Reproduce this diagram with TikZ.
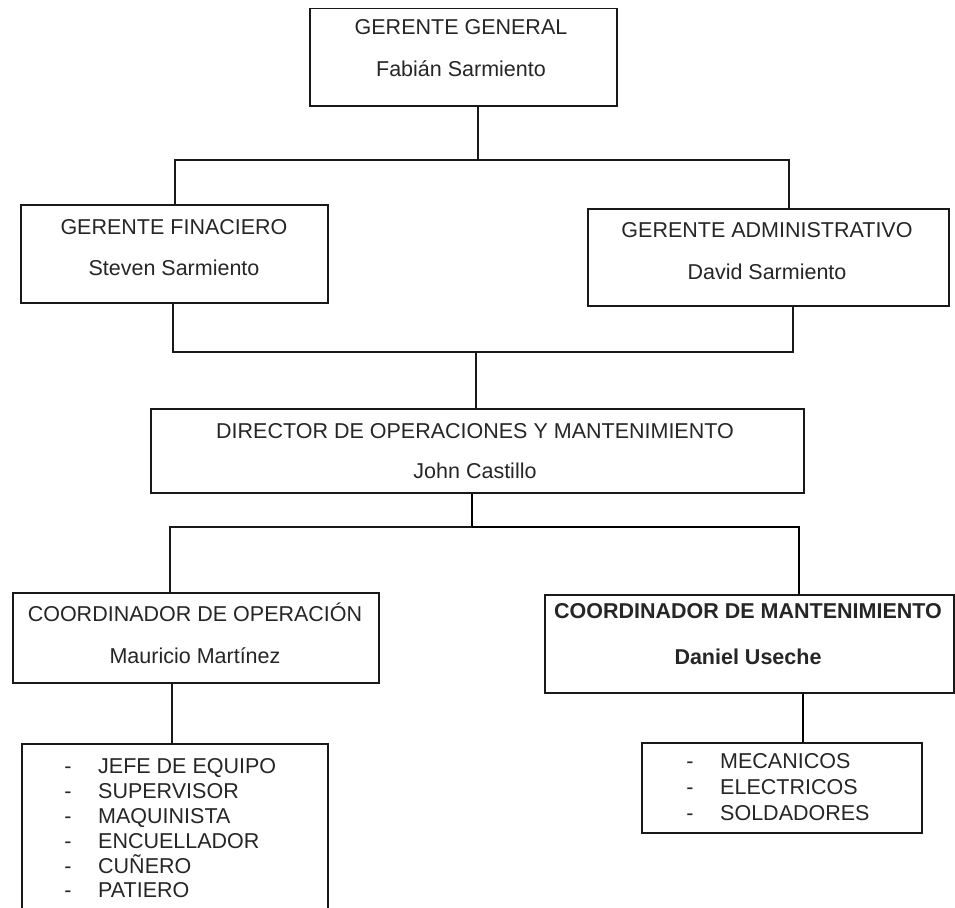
\documentclass[tikz,border=0pt]{standalone}
\usepackage{fontspec}
\setmainfont{Liberation Sans}
\begin{document}
\begin{tikzpicture}[x=1pt,y=-1pt,
  box/.style={draw=black!90, line width=1.5pt, rectangle, inner sep=0pt, anchor=north west},
  conn/.style={draw=black!90, line width=1.5pt},
  heavy/.style={draw=black, line width=2.6pt},
  txt/.style={anchor=base, inner sep=0pt, text=black!85, font=\fontsize{21.5}{25}\selectfont},
  btxt/.style={txt, font=\fontsize{21.5}{25}\selectfont\bfseries},
  bullet mark/.style={txt},
  item/.style={txt, anchor=base west}
]
\clip (0,0) rectangle (955,907);
\fill[white] (0,0) rectangle (955,907);

% boxes
\node[box, minimum width=307pt, minimum height=97pt] (gg) at (309,8) {};
\node[box, minimum width=307pt, minimum height=98pt] (gf) at (20,204) {};
\node[box, minimum width=361pt, minimum height=97pt] (ga) at (587,208) {};
\node[box, minimum width=653pt, minimum height=84pt] (dir) at (150,408) {};
\node[box, minimum width=366pt, minimum height=90pt] (co) at (12,592) {};
\node[box, minimum width=409pt, minimum height=98pt] (cm) at (544,594) {};
\node[box, minimum width=306pt, minimum height=200pt] (ll) at (21,743) {};
\node[box, minimum width=280pt, minimum height=90pt] (lr) at (641,742) {};

% texts
\node[txt] (ggt) at (461,35) {GERENTE GENERAL};
\node[txt] (ggn) at (461,76) {Fabián Sarmiento};
\node[txt] (gft) at (174,234) {GERENTE FINACIERO};
\node[txt] (gfn) at (174,275) {Steven Sarmiento};
\node[txt] (gat) at (767,237) {GERENTE ADMINISTRATIVO};
\node[txt] (gan) at (767,279) {David Sarmiento};
\node[txt] (dirt) at (475,438) {DIRECTOR DE OPERACIONES Y MANTENIMIENTO};
\node[txt] (dirn) at (475,478) {John Castillo};
\node[txt] (cot) at (195,621) {COORDINADOR DE OPERACIÓN};
\node[txt] (con) at (195,663) {Mauricio Martínez};
\node[btxt] (cmt) at (748,618) {COORDINADOR DE MANTENIMIENTO};
\node[btxt] (cmn) at (748,664) {Daniel Useche};

% left list
\foreach \lbl/\yy [count=\i] in {JEFE DE EQUIPO/773, SUPERVISOR/798, MAQUINISTA/823,
    ENCUELLADOR/848, CUÑERO/873, PATIERO/897} {
  \node[bullet mark] (lld\i) at (68,\yy) {-};
  \node[item] (lli\i) at (98,\yy) {\lbl};
}
% right list
\foreach \lbl/\yy [count=\i] in {MECANICOS/768, ELECTRICOS/794, SOLDADORES/820} {
  \node[bullet mark] (lrd\i) at (690,\yy) {-};
  \node[item] (lri\i) at (720,\yy) {\lbl};
}

% junction points
\coordinate (j1) at (478,160);
\coordinate (jl1) at (175,160);
\coordinate (jr1) at (789,160);
\coordinate (jl2) at (173,352);
\coordinate (jm2) at (476,352);
\coordinate (jr2) at (793,352);
\coordinate (j3) at (472,527);
\coordinate (jl3) at (170,527);
\coordinate (jr3) at (799,527);
\coordinate (j4) at (172,700);
\coordinate (j5) at (803,700);

% connectors
\draw[conn] (gg.south -| j1) -- (j1);
\draw[conn] (gf.north -| jl1) -- (jl1) -- (jr1) -- (ga.north -| jr1);
\draw[conn] (gf.south -| jl2) -- (jl2) -- (jr2) -- (ga.south -| jr2);
\draw[conn] (jm2) -- (dir.north -| jm2);
\draw[heavy] (dir.south -| j3) -- (j3);
\draw[conn] (co.north -| jl3) -- (jl3) -- (j3);
\draw[heavy] (j3) -- (jr3) -- (cm.north -| jr3);
\draw[conn] (co.south -| j4) -- (ll.north -| j4);
\draw[heavy] (cm.south -| j5) -- (lr.north -| j5);
\end{tikzpicture}
\end{document}
